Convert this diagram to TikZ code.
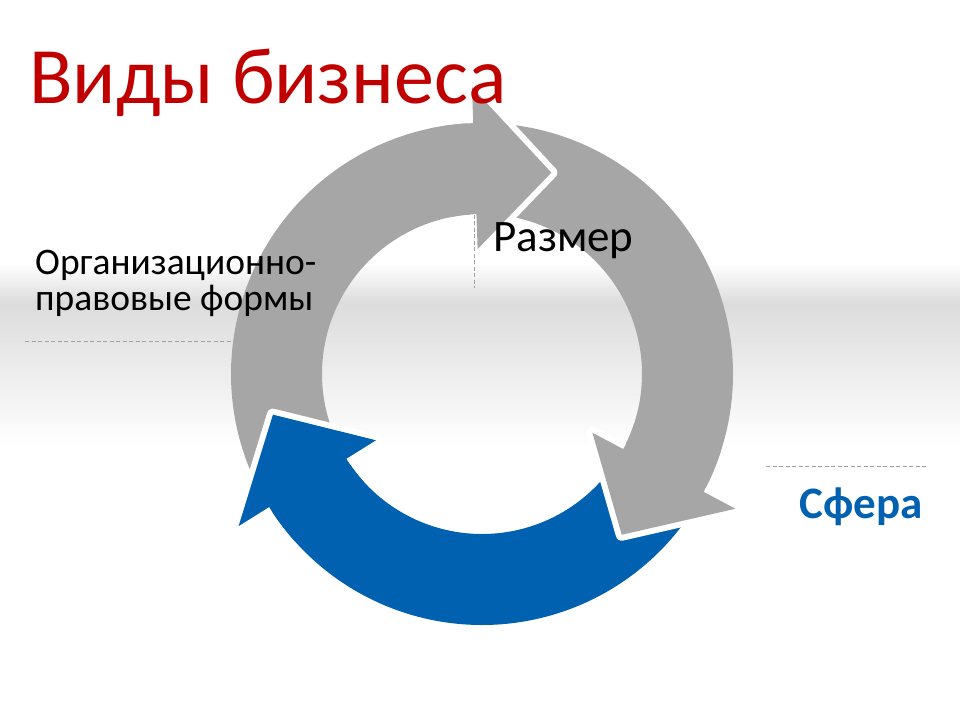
\documentclass[tikz,border=0pt]{standalone}
\usepackage{fontspec}
\setmainfont{Carlito}
\definecolor{cyclecolor0000}{RGB}{192,0,0}
\definecolor{cyclecolor0001}{RGB}{166,166,166}
\definecolor{cyclecolor0002}{RGB}{0,97,176}
\definecolor{cyclecolor0003}{RGB}{220,220,220}
\definecolor{cyclecolor0004}{RGB}{160,160,160}

\begin{document}
\begin{tikzpicture}[yscale=-1,x=1pt,y=1pt
,cstyle0/.style={color=cyclecolor0004,line width=1.0pt,dash pattern=on 4pt off 2.5pt}
,cstyle1/.style={fill=white,draw=white,line width=12pt,line join=round}
,cstyle2/.style={inner sep=0pt,anchor=base west,color=black}
]
\useasboundingbox (0,0) rectangle (960,720);
\fill[white] (0,0) rectangle (960,720);
\shade[top color=white,bottom color=cyclecolor0003] (0,263) rectangle (960,303);
\shade[top color=cyclecolor0003,bottom color=white] (0,303) rectangle (960,447);
\begin{scope}[shift={(482,374)}]
\foreach \back/\col in {268/cyclecolor0001,388/cyclecolor0001,148/cyclecolor0002}{
\pgfmathsetmacro\tail{\back-114}
\pgfmathsetmacro\tip{\back+21}
\fill[\col] (\tail:251) arc[start angle=\tail,end angle=\back,radius=251] -- (\back:287) -- (\tip:213) -- (\back:125) -- (\back:160) arc[start angle=\back,end angle=\tail,radius=160] -- cycle;
}
\foreach \back/\col in {268/cyclecolor0001,388/cyclecolor0001,148/cyclecolor0002}{
\pgfmathsetmacro\prev{\back-10}
\pgfmathsetmacro\tip{\back+21}
\path[cstyle1] (\back:287) -- (\tip:213) -- (\back:125) -- cycle;
\fill[\col] (\prev:251) arc[start angle=\prev,end angle=\back,radius=251] -- (\back:287) -- (\tip:213) -- (\back:125) -- (\back:160) arc[start angle=\back,end angle=\prev,radius=160] -- cycle;
}
\end{scope}
\coordinate (l1a) at (25,341);
\coordinate (l1b) at (232,341);
\coordinate (l2a) at (474,208);
\coordinate (l2b) at (474,288);
\coordinate (l3a) at (766,466);
\coordinate (l3b) at (928,466);
\draw[cstyle0] (l1a) -- (l1b);
\draw[cstyle0] (l2a) -- (l2b);
\draw[cstyle0] (l3a) -- (l3b);
\node[cstyle2,color=cyclecolor0000,font=\fontsize{80}{96}\selectfont] (title) at (29,103) {Виды бизнеса};
\node[cstyle2,align=left,font=\fontsize{37.5}{36}\selectfont] (orgforms) at (35,310) {Организационно-\\правовые формы};
\node[cstyle2,font=\fontsize{45}{52}\selectfont] (size) at (493,251) {Размер};
\node[cstyle2,color=cyclecolor0002,font=\fontsize{45}{52}\selectfont\bfseries] (sphere) at (799,518) {Сфера};
\end{tikzpicture}
\end{document}
